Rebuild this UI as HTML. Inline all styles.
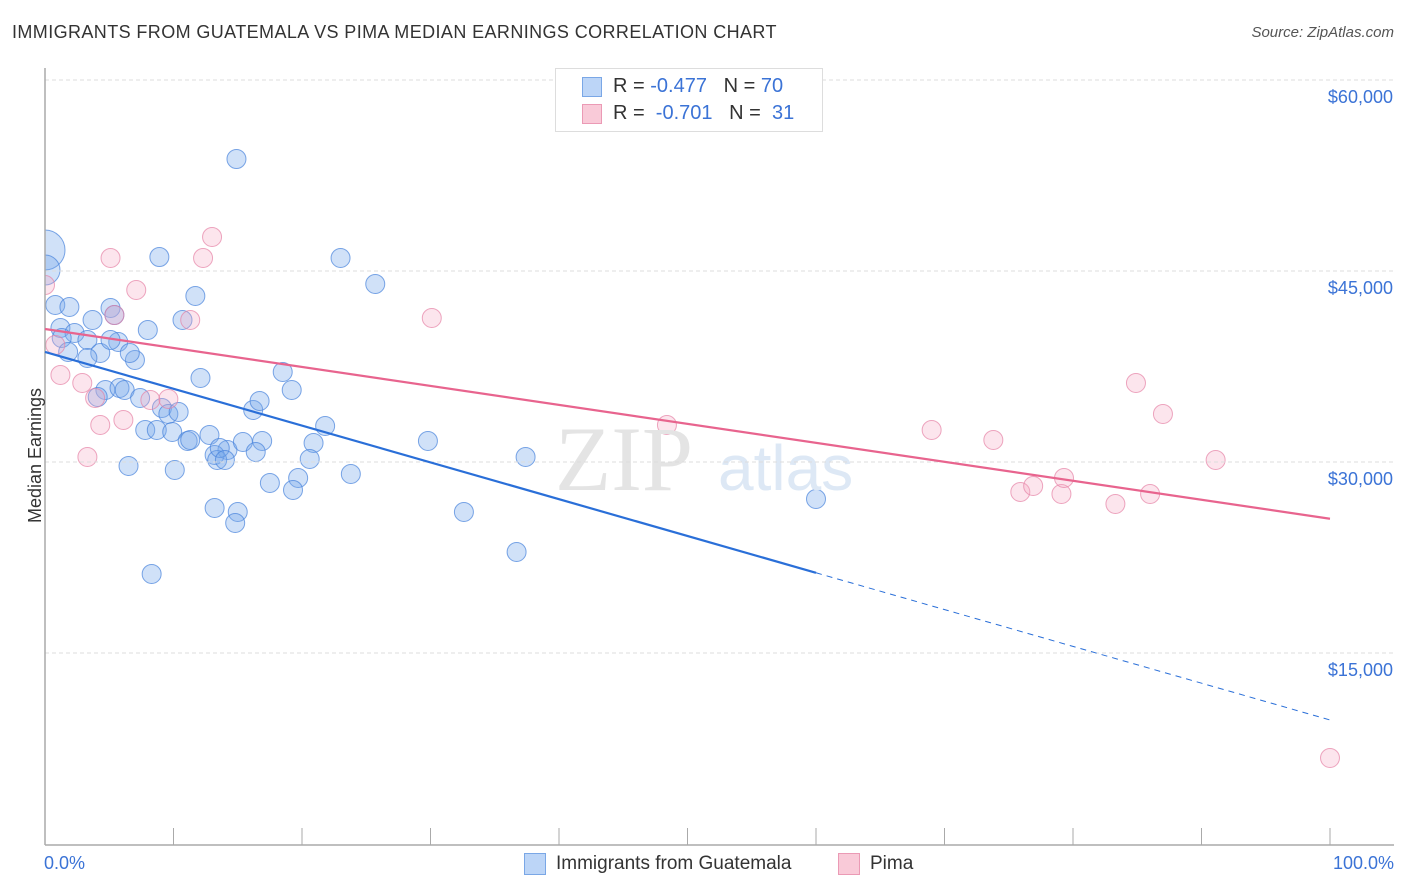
<!DOCTYPE html>
<html><head><meta charset="utf-8"><style>
body{margin:0;background:#fff;font-family:"Liberation Sans",sans-serif;}
#wrap{position:relative;width:1406px;height:892px;overflow:hidden;}
.t{position:absolute;white-space:nowrap;}
</style></head><body>
<div id="wrap">
<div class="t" style="left:12px;top:22px;font-size:18px;color:#333;letter-spacing:0.4px;">IMMIGRANTS FROM GUATEMALA VS PIMA MEDIAN EARNINGS CORRELATION CHART</div>
<div class="t" style="right:12px;top:24px;font-size:15px;color:#555;font-style:italic;">Source: ZipAtlas.com</div>
<svg id="svg" width="1406" height="892" style="position:absolute;left:0;top:0"><defs><clipPath id="pc"><rect x="45" y="60" width="1360" height="785"/></clipPath></defs><g id="pts" clip-path="url(#pc)"></g></svg>
</div>
<script>
const yTickValues=[60000,45000,30000,15000];
const yTickLabels=["$60,000","$45,000","$30,000","$15,000"];
const blueX=[0,0,0.8,1.9,1.2,2.3,1.3,3.3,4.3,1.8,3.3,5.1,5.4,5.7,7.0,6.6,3.7,8.0,8.9,11.7,10.7,14.9,23.0,25.7,4.7,4.1,5.8,6.2,7.4,9.1,9.6,10.4,7.8,8.7,9.9,11.1,11.3,12.8,12.1,18.5,19.2,16.2,16.7,21.8,20.9,14.2,13.2,13.4,13.6,15.4,16.9,16.4,20.6,19.7,23.8,6.5,10.1,17.5,19.3,13.2,15.0,14.8,8.3,29.8,32.6,37.4,36.7,60.0,5.1,14.0];
const blueY=[47985,46414,43666,43509,41860,41467,41074,40917,39896,39975,39504,43430,42880,40760,39347,39896,42488,41703,47435,44373,42488,55131,47357,45315,36991,36441,37148,36991,36362,35577,35106,35263,33850,33850,33692,32986,33064,33457,37933,38404,36991,35420,36127,34164,32829,32279,31886,31494,32436,32907,32986,32122,31572,30080,30394,31022,30708,29687,29138,27724,27410,26546,22541,32986,27410,31729,24269,28431,40917,31494];
const blueR=[20,15];
const pinkX=[0,0.8,1.2,2.9,3.9,4.3,3.3,5.1,5.4,7.1,6.1,9.6,11.3,12.3,13.0,30.1,48.4,69.0,73.8,75.9,76.9,79.1,79.3,83.3,84.9,86.0,87.0,91.1,100,8.2];
const pinkY=[45236,40525,38169,37540,36362,34242,31729,47357,42880,44844,34635,36284,42488,47357,49006,42645,34242,33850,33064,28981,29452,28824,30080,28038,37540,28824,35106,31494,8092,36205];
const blueTrend=[39975,-289];
const pinkTrend=[41780,-149];
const blueSolidEnd=60;

const NS="http://www.w3.org/2000/svg",svg=document.getElementById('svg'),pts=document.getElementById('pts');
const X=p=>45+p*12.85;
const Y=v=>97+(60000-v)/15000*191;
function mk(t,a,par){const e=document.createElementNS(NS,t);for(const k in a)e.setAttribute(k,a[k]);(par||svg).appendChild(e);return e;}
let wm=mk('text',{x:555,y:490,'font-size':92,fill:'#e4e4e4','font-family':'Liberation Serif,serif'});wm.textContent='ZIP';


let wm2=mk('text',{x:718,y:490,'font-size':64,fill:'#dde8f5','font-family':'Liberation Sans,sans-serif'});wm2.textContent='atlas';


yTickValues.forEach((v,i)=>{
 const g=mk('line',{x1:45,x2:1394,y1:Y(v)-17,y2:Y(v)-17,stroke:'#ddd','stroke-dasharray':'4,3'});
 
 
 const t=mk('text',{x:1393,y:Y(v)+6,'text-anchor':'end','font-size':18,fill:'#3b73d6','font-family':'Liberation Sans,sans-serif'});
 t.textContent=yTickLabels[i];
 
 
});
blueX.forEach((x,i)=>{const c=mk('circle',{cx:X(x),cy:Y(blueY[i]),r:blueR[i]||9.5,fill:'rgba(120,170,235,0.35)',stroke:'rgba(70,130,220,0.7)','stroke-width':1},pts);
 
 });
pinkX.forEach((x,i)=>{const c=mk('circle',{cx:X(x),cy:Y(pinkY[i]),r:9.5,fill:'rgba(245,170,195,0.3)',stroke:'rgba(230,130,165,0.7)','stroke-width':1},pts);
 
 });
let ax=mk('line',{x1:45,x2:45,y1:68,y2:845,stroke:'#aaa','stroke-width':1.5});


let bx=mk('line',{x1:45,x2:1394,y1:845,y2:845,stroke:'#aaa','stroke-width':1.5});


for(let i=0;i<=10;i++){const tk=mk('line',{x1:X(i*10),x2:X(i*10),y1:828,y2:845,stroke:'#aaa'});
 
 }
const bv=p=>blueTrend[0]+blueTrend[1]*p, pv=p=>pinkTrend[0]+pinkTrend[1]*p;
let l1=mk('line',{x1:X(0),y1:Y(bv(0)),x2:X(blueSolidEnd),y2:Y(bv(blueSolidEnd)),stroke:'#2a6fd8','stroke-width':2.2});


let l2=mk('line',{x1:X(blueSolidEnd),y1:Y(bv(blueSolidEnd)),x2:X(100),y2:Y(bv(100)),stroke:'#2a6fd8','stroke-width':1,'stroke-dasharray':'6,5'});


let l3=mk('line',{x1:X(0),y1:Y(pv(0)),x2:X(100),y2:Y(pv(100)),stroke:'#e8648e','stroke-width':2.2});


</script>
<div class="t" style="left:-32px;top:445px;font-size:18px;color:#333;transform:rotate(-90deg);">Median Earnings</div>
<div class="t" style="left:44px;top:853px;font-size:18px;color:#3b73d6;">0.0%</div>
<div class="t" style="right:12px;top:853px;font-size:18px;color:#3b73d6;">100.0%</div>
<div style="position:absolute;left:555px;top:68px;width:266px;height:62px;border:1px solid #ddd;background:#fff;font-size:20px;color:#333;">
 <div style="position:absolute;left:26px;top:8px;width:18px;height:18px;background:#bcd5f7;border:1px solid #7aa7e6;"></div>
 <div class="t" style="left:57px;top:6px;">R = <span style="color:#3b73d6">-0.477</span>&nbsp;&nbsp;&nbsp;N = <span style="color:#3b73d6">70</span></div>
 <div style="position:absolute;left:26px;top:35px;width:18px;height:18px;background:#f9cad8;border:1px solid #eb9ab5;"></div>
 <div class="t" style="left:57px;top:33px;">R = &nbsp;<span style="color:#3b73d6">-0.701</span>&nbsp;&nbsp;&nbsp;N = &nbsp;<span style="color:#3b73d6">31</span></div>
</div>
<div style="position:absolute;left:524px;top:853px;font-size:19px;color:#333;">
 <div style="position:absolute;left:0;top:0;width:20px;height:20px;background:#bcd5f7;border:1px solid #7aa7e6;"></div>
 <div class="t" style="left:32px;top:0;">Immigrants from Guatemala</div>
 <div style="position:absolute;left:314px;top:0;width:20px;height:20px;background:#f9cad8;border:1px solid #eb9ab5;"></div>
 <div class="t" style="left:346px;top:0;">Pima</div>
</div>
</body></html>
